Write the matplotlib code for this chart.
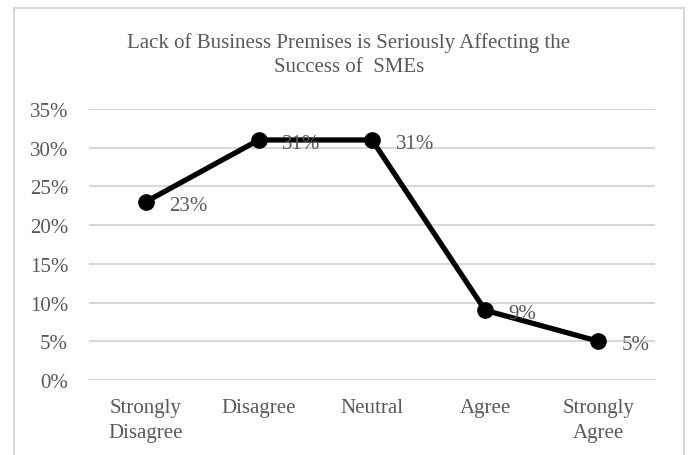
import matplotlib.pyplot as plt
from matplotlib.patches import Rectangle

categories = ["Strongly\nDisagree", "Disagree", "Neutral", "Agree", "Strongly\nAgree"]
values = [23, 31, 31, 9, 5]
yticks = [0, 5, 10, 15, 20, 25, 30, 35]

plt.rcParams['font.family'] = ['Liberation Serif', 'DejaVu Serif']
txt = '#595959'
grid = '#D9D9D9'

fig = plt.figure(figsize=(6.88, 4.56), dpi=100)
ax = fig.add_axes([89/688, 1 - 381/456, 566/688, 271/456])

x = [i + 0.5 for i in range(len(values))]
ax.plot(x, values, color='black', lw=3.8, marker='o', ms=11, solid_capstyle='round', zorder=3)
for xi, v in zip(x, values):
    ax.annotate(f"{v}%", (xi, v), xytext=(17, -2.5), textcoords='offset points',
                ha='left', va='center', fontsize=15, color=txt)

ax.set_xlim(0, 5)
ax.set_ylim(0, 35)
ax.set_yticks(yticks)
ax.set_yticklabels([f"{t}%" for t in yticks])
ax.set_xticks(x)
ax.set_xticklabels(categories, linespacing=1.4)
ax.tick_params(length=0, labelsize=15, colors=txt)
ax.tick_params(axis='y', pad=15)
ax.tick_params(axis='x', pad=13)
ax.grid(axis='y', color=grid, lw=1.5)
ax.set_axisbelow(True)
for s in ax.spines.values():
    s.set_visible(False)

fig.text(349/688, 1 - 55/456, "Lack of Business Premises is Seriously Affecting the\nSuccess of  SMEs",
         ha='center', va='center', fontsize=15, color=txt, linespacing=1.4)

fig.patches.append(Rectangle((14/688, -5/456), 670/688, 452/456, transform=fig.transFigure,
                             fill=False, edgecolor=grid, lw=1.5))

fig.savefig("out.png", dpi=100)
